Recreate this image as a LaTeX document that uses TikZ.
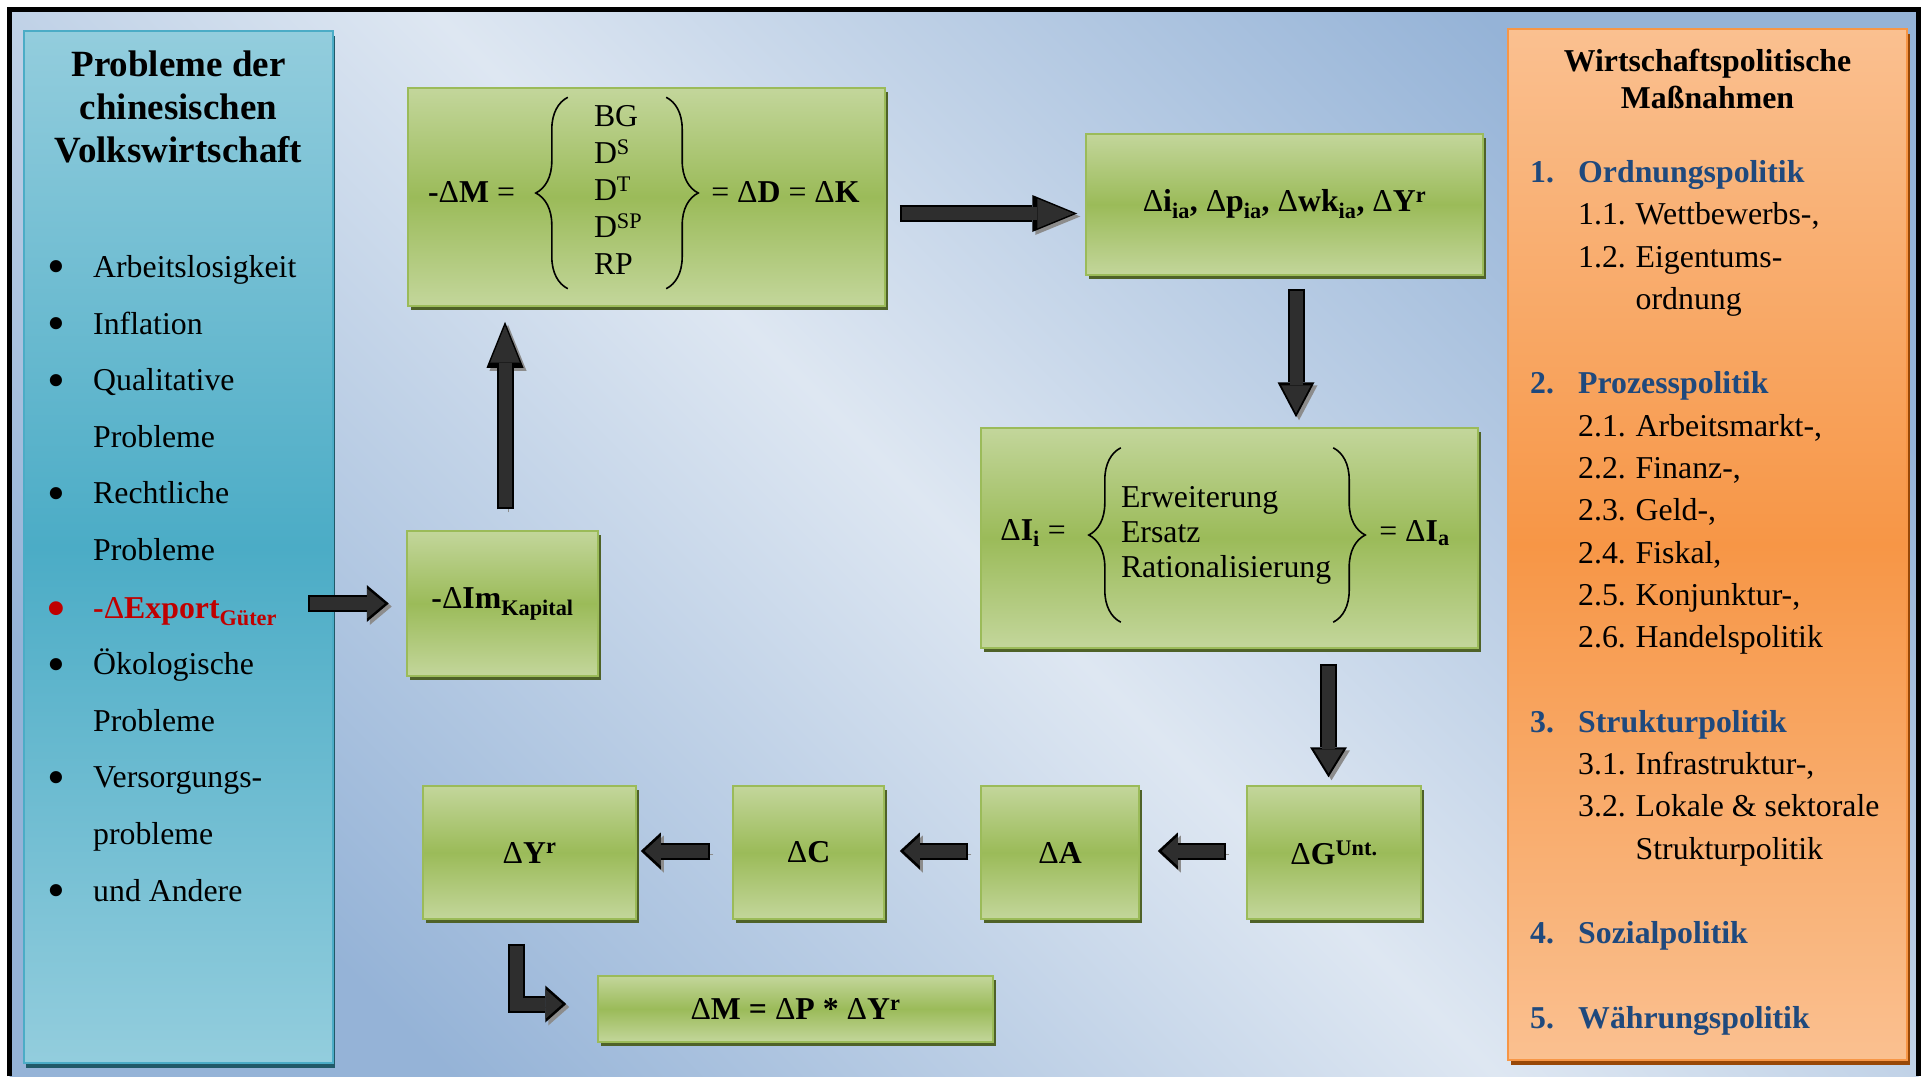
\documentclass[tikz,border=0pt]{standalone}
\usepackage{fontspec}
\setmainfont{Liberation Serif}
\usepackage{tikz}
\usetikzlibrary{arrows.meta,positioning,calc,shadows,decorations.pathreplacing}
\definecolor{bgL}{RGB}{222,231,242}
\definecolor{bgD}{RGB}{149,179,215}
\definecolor{grnL}{RGB}{195,214,155}
\definecolor{grnD}{RGB}{155,187,89}
\definecolor{grnS}{RGB}{79,98,40}
\definecolor{bluL}{RGB}{147,205,221}
\definecolor{bluD}{RGB}{75,172,198}
\definecolor{bluS}{RGB}{33,89,104}
\definecolor{orL}{RGB}{250,192,144}
\definecolor{orD}{RGB}{247,150,70}
\definecolor{orS}{RGB}{152,72,7}
\definecolor{hdblue}{RGB}{31,73,125}
\definecolor{exred}{RGB}{192,0,0}
\newcommand\txtsize{\fontsize{31.8}{37}\selectfont\lineskiplimit=-100pt\relax}
\newcommand\dlt{{\mdseries Δ}}
\newcommand\tstrut{\rule[-0.25em]{0pt}{1em}}
\newcommand\bdot{\raisebox{-0.2em}{\scalebox{1.6}{•}}}
\newcommand\bul[1]{\tstrut\makebox[46pt][l]{#1}}
\newcommand\pnum[2]{\tstrut\makebox[48pt][l]{\color{hdblue}\bfseries #1}{\color{hdblue}\bfseries #2}}
\newcommand\psub[2]{\tstrut\hspace*{48pt}\makebox[57.5pt][l]{#1}#2}
\newcommand\pcnt[1]{\tstrut\hspace*{105.5pt}#1}
\tikzset{main node/.style={rectangle,draw=grnD,line width=1.5pt,top color=grnL,bottom color=grnL,middle color=grnD,inner sep=0pt,font=\txtsize\bfseries,drop shadow={shadow xshift=3pt,shadow yshift=-4pt,fill=grnS,opacity=1}},
  left box/.style={rectangle,draw=bluD,line width=1.5pt,top color=bluL,bottom color=bluL,middle color=bluD,minimum width=309pt,minimum height=1032pt,drop shadow={shadow xshift=2pt,shadow yshift=-5pt,fill=bluS,opacity=1}},
  right box/.style={rectangle,draw=orD,line width=1.5pt,top color=orL,bottom color=orL,middle color=orD,minimum width=399pt,minimum height=1031pt,drop shadow={shadow xshift=3pt,shadow yshift=-5pt,fill=orS,opacity=1}},
  head node/.style={align=center,inner sep=0pt,font=\txtsize\bfseries},
  list node/.style={align=left,inner sep=0pt,anchor=west},
  eq node/.style={inner sep=0pt,font=\txtsize},
  brace line/.style={decorate,decoration={brace,amplitude=32pt},line width=1.6pt},
  edge/.style={line width=17pt,draw=black,-{Triangle[width=37pt,length=#1,line width=0pt]},
    preaction={draw=black!45,transform canvas={shift={(3pt,-3pt)}}},
    postaction={draw=black!82,line width=13pt,shorten <=2pt,shorten >=4pt,-{Triangle[width=37pt,length=#1,line width=0pt,scale=0.8]}}},
  edge/.default=30pt}
\begin{document}
\begin{tikzpicture}[x=1pt,y=-1pt]
    \useasboundingbox (0,0) rectangle (1921,1076);
    \fill[white] (0,0) rectangle (1921,1076);
    \shade[top color=bgD,bottom color=bgD,middle color=bgL,shading angle=-45] (9.5,9.5) rectangle (1918.5,1076);
    \draw[line width=5pt] (9.5,1076) -- (9.5,9.5) -- (1918.5,9.5) -- (1918.5,1076);

    % side boxes
    \node[left box] (l) at (178.5,547) {};
    \node[right box] (r) at (1707.5,544.5) {};
    \node[head node, on grid, font=\fontsize{37}{43}\selectfont\bfseries] (t1) [above = 437pt of l] {\tstrut Probleme der\\\tstrut chinesischen\\\tstrut Volkswirtschaft};
    \node[list node, font=\fontsize{31.8}{56.6}\selectfont] (p1) at (47,411) {\bul{\bdot}Arbeitslosigkeit\\\bul{\bdot}Inflation\\\bul{\bdot}Qualitative\\\bul{}Probleme\\\bul{\bdot}Rechtliche\\\bul{}Probleme};
    \node[list node, font=\fontsize{31.8}{56.6}\selectfont\bfseries, text=exred] (ex) at (47,611) {\bul{\bdot}-\dlt Export\textsubscript{Güter}};
    \node[list node, font=\fontsize{31.8}{56.6}\selectfont] (p2) at (47,779) {\bul{\bdot}Ökologische\\\bul{}Probleme\\\bul{\bdot}Versorgungs-\\\bul{}probleme\\\bul{\bdot}und Andere};
    \node[head node, on grid] (t2) [above = 462pt of r] {\tstrut Wirtschaftspolitische\\\tstrut Maßnahmen};
    \node[list node, font=\fontsize{31.8}{42.3}\selectfont] (p3) at (1530,597.5) {\pnum{1.}{Ordnungspolitik}\\\psub{1.1.}{Wettbewerbs-,}\\\psub{1.2.}{Eigentums-}\\\pcnt{ordnung}\\\tstrut\\
      \pnum{2.}{Prozesspolitik}\\\psub{2.1.}{Arbeitsmarkt-,}\\\psub{2.2.}{Finanz-,}\\\psub{2.3.}{Geld-,}\\\psub{2.4.}{Fiskal,}\\\psub{2.5.}{Konjunktur-,}\\\psub{2.6.}{Handelspolitik}\\\tstrut\\
      \pnum{3.}{Strukturpolitik}\\\psub{3.1.}{Infrastruktur-,}\\\psub{3.2.}{Lokale \& sektorale}\\\pcnt{Strukturpolitik}\\\tstrut\\
      \pnum{4.}{Sozialpolitik}\\\tstrut\\\pnum{5.}{Währungspolitik}};

    % flow boxes
    \node[main node, minimum width=477pt, minimum height=218pt] (v1) at (646.5,197) {};
    \node[main node, on grid, minimum width=397pt, minimum height=141pt] (v2) [below right = 7.5pt and 638pt of v1] {\dlt i\textsubscript{ia}, \dlt p\textsubscript{ia}, \dlt wk\textsubscript{ia}, \dlt Y\textsuperscript{r}};
    \node[main node, on grid, minimum width=497pt, minimum height=220pt] (v3) [below left = 333.5pt and 55pt of v2] {};
    \node[main node, on grid, minimum width=191pt, minimum height=145pt] (v4) [below left = 406.5pt and 144pt of v1] {-\dlt Im\textsubscript{Kapital}};
    \node[main node, on grid, minimum width=174pt, minimum height=133pt] (v5) [below right = 314.5pt and 104.5pt of v3] {\dlt G\textsuperscript{Unt.}};
    \node[main node, on grid, minimum width=158pt, minimum height=133pt] (v6) [left = 274pt of v5] {\dlt A};
    \node[main node, on grid, minimum width=151pt, minimum height=133pt] (v7) [left = 251.5pt of v6] {\dlt C};
    \node[main node, on grid, minimum width=213pt, minimum height=133pt] (v8) [left = 279pt of v7] {\dlt Y\textsuperscript{r}};
    \node[main node, on grid, minimum width=395pt, minimum height=66pt] (v9) [below right = 156.5pt and 266pt of v8] {\dlt M = \dlt P * \dlt Y\textsuperscript{r}};

    % equations in v1 and v3
    \node[eq node, on grid] (m1) [above left = 5pt and 175pt of v1] {\textbf{-}\dlt\textbf{M} =};
    \node[eq node, on grid, align=left, text width=46pt, minimum width=98pt, minimum height=191pt] (k1) [above left = 4pt and 29.5pt of v1] {\tstrut BG\\\tstrut D\textsuperscript{S}\\\tstrut D\textsuperscript{T}\\\tstrut D\textsuperscript{SP}\\\tstrut RP};
    \node[eq node, on grid] (m2) [above right = 5pt and 139pt of v1] {= \dlt\textbf{D} = \dlt\textbf{K}};
    \draw[brace line] (k1.south west) -- (k1.north west);
    \draw[brace line] (k1.north east) -- (k1.south east);
    \node[eq node, on grid] (m3) [above left = 5pt and 196.5pt of v3] {\dlt\textbf{I}\textsubscript{\textbf{i}} =};
    \node[eq node, on grid, align=left, text width=212pt, minimum height=174pt, font=\fontsize{31.8}{35}\selectfont] (k2) [above left = 3pt and 2.5pt of v3] {\tstrut Erweiterung\\\tstrut Ersatz\\\tstrut Rationalisierung};
    \node[eq node, on grid] (m4) [above right = 5pt and 185pt of v3] {= \dlt\textbf{I}\textsubscript{\textbf{a}}};
    \draw[brace line] (k2.south west) -- (k2.north west);
    \draw[brace line] (k2.north east) -- (k2.south east);

    % arrows
    \path[edge=22pt] ($(ex.east |- v4.west)+(31,0)$) -- ([xshift=-17.5pt]v4.west);
    \path[edge=46pt] ([shift={(2.5pt,21pt)}]v4.north) -- ([shift={(-141.5pt,-15pt)}]v1.south);
    \path[edge=45pt] ([shift={(14pt,-16.5pt)}]v1.east) -- ([shift={(-8pt,-9pt)}]v2.west);
    \path[edge=35pt] ([shift={(11.5pt,-13pt)}]v2.south) -- ([shift={(66.5pt,10pt)}]v3.north);
    \path[edge] ([shift={(99pt,-15pt)}]v3.south) -- ([shift={(-5.5pt,8pt)}]v5.north);
    \path[edge=20pt] ([shift={(-20pt,1.5pt)}]v5.west) -- ([shift={(18pt,1.5pt)}]v6.east);
    \path[edge=20pt] ([shift={(-12pt,1.5pt)}]v6.west) -- ([shift={(15pt,1.5pt)}]v7.east);
    \path[edge=20pt] ([shift={(-22pt,1.5pt)}]v7.west) -- ([shift={(4pt,1.5pt)}]v8.east);
    \path[edge=21pt] ([shift={(-13.5pt,-24pt)}]v8.south) |- ([shift={(-31pt,5pt)}]v9.west);
\end{tikzpicture}
\end{document}
